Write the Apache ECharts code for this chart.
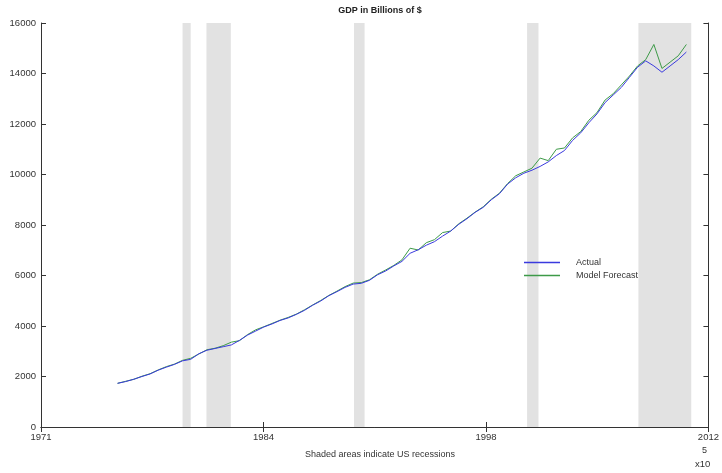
<!DOCTYPE html>
<html>
<head>
<meta charset="utf-8">
<script src="https://cdn.jsdelivr.net/npm/echarts@6/dist/echarts.min.js"></script>
<style>
html,body{margin:0;padding:0;background:#fff;}
#main{width:722px;height:473px;}
</style>
</head>
<body>
<div id="main"></div>
<script>
// half-year dates (decimal years)
var years = [1976.0,1976.5,1977.0,1977.5,1978.0,1978.5,1979.0,1979.5,1980.0,1980.5,
  1981.0,1981.5,1982.0,1982.5,1983.0,1983.5,1984.0,1984.5,1985.0,1985.5,
  1986.0,1986.5,1987.0,1987.5,1988.0,1988.5,1989.0,1989.5,1990.0,1990.5,
  1991.0,1991.5,1992.0,1992.5,1993.0,1993.5,1994.0,1994.5,1995.0,1995.5,
  1996.0,1996.5,1997.0,1997.5,1998.0,1998.5,1999.0,1999.5,2000.0,2000.5,
  2001.0,2001.5,2002.0,2002.5,2003.0,2003.5,2004.0,2004.5,2005.0,2005.5,
  2006.0,2006.5,2007.0,2007.5,2008.0,2008.5,2009.0,2009.5,2010.0,2010.5,2011.0];

var actual = [1730,1800,1890,2000,2100,2250,2370,2480,2620,2680,
  2900,3040,3110,3180,3250,3430,3640,3800,3960,4080,
  4220,4320,4460,4620,4820,4990,5200,5360,5530,5660,
  5690,5810,6030,6180,6380,6560,6880,7020,7200,7340,
  7560,7760,8030,8250,8500,8700,9000,9240,9620,9870,
  10050,10170,10320,10500,10750,10950,11350,11650,12050,12400,
  12850,13150,13450,13850,14250,14500,14300,14050,14300,14550,14850];

var forecast = [1730,1810,1890,2010,2110,2260,2390,2490,2640,2720,
  2890,3060,3120,3220,3360,3420,3660,3850,3970,4100,
  4230,4340,4470,4640,4830,5010,5210,5380,5560,5700,
  5720,5830,6050,6220,6400,6620,7080,7010,7300,7420,
  7700,7760,8050,8270,8510,8720,9020,9260,9640,9950,
  10100,10250,10650,10550,11000,11050,11450,11700,12150,12450,
  12950,13200,13550,13900,14300,14550,15150,14200,14450,14700,15150];

// US recessions (decimal years)
var recStart = [1980.0, 1981.47, 1990.55, 2001.2, 2008.05];
var recEnd   = [1980.5, 1982.97, 1991.2, 2001.9, 2011.3];

// x axis is in serial day numbers, labelled with years
var xTicks = [720000, 725000, 730000, 735000];
var xTickLabels = ['1971', '1984', '1998', '2012'];
var yTicks = [0,2000,4000,6000,8000,10000,12000,14000,16000];

var blue = '#3a3ade', green = '#3d9a48';

function datenum(y){
  return 719529 + (y - 1970) * 365.2425;
}

var actualPts = [], forecastPts = [];
for (var i = 0; i < years.length; i++) {
  actualPts.push([datenum(years[i]), actual[i]]);
  forecastPts.push([datenum(years[i]), forecast[i]]);
}
var areas = [];
for (var j = 0; j < recStart.length; j++) {
  areas.push([{xAxis: datenum(recStart[j])}, {xAxis: datenum(recEnd[j])}]);
}

var font = '"Liberation Sans", Arial, sans-serif';
var axisCol = '#333';

var option = {
  animation: false,
  backgroundColor: '#fff',
  title: {
    text: 'GDP in Billions of $',
    left: 375, top: 1, textAlign: 'center',
    textStyle: {fontSize: 9, fontWeight: 'bold', color: '#222', fontFamily: font}
  },
  grid: {left: 41, right: 13, top: 23, bottom: 46},
  legend: {
    data: [
      {name: 'Actual', icon: 'rect', itemStyle: {color: blue, borderWidth: 0}},
      {name: 'Model Forecast', icon: 'rect', itemStyle: {color: green, borderWidth: 0}}
    ],
    orient: 'vertical',
    left: 519, top: 253,
    itemWidth: 36, itemHeight: 1.5, itemGap: 4,
    textStyle: {fontSize: 9, color: '#333', fontFamily: font, padding: [0, 0, 0, 11]}
  },
  xAxis: [{
    type: 'value', min: xTicks[0], max: xTicks[xTicks.length - 1], interval: 5000,
    axisLine: {lineStyle: {color: axisCol, width: 1}},
    axisTick: {inside: true, length: 5, lineStyle: {color: axisCol}},
    axisLabel: {
      fontSize: 9.5, color: '#333', fontFamily: font, margin: 5,
      formatter: function(v){ return xTickLabels[xTicks.indexOf(v)] || ''; }
    },
    splitLine: {show: false}
  }, {
    type: 'value', position: 'top', min: xTicks[0], max: xTicks[xTicks.length - 1], interval: 5000,
    axisLine: {lineStyle: {color: axisCol, width: 1}},
    axisTick: {inside: true, length: 5, lineStyle: {color: axisCol}},
    axisLabel: {show: false},
    splitLine: {show: false}
  }],
  yAxis: [{
    type: 'value', min: yTicks[0], max: yTicks[yTicks.length - 1], interval: 2000,
    axisLine: {show: true, lineStyle: {color: axisCol, width: 1}},
    axisTick: {show: true, inside: true, length: 5, lineStyle: {color: axisCol}},
    axisLabel: {fontSize: 9.5, color: '#333', fontFamily: font, margin: 5,
      formatter: function(v){ return String(v); }},
    splitLine: {show: false}
  }, {
    type: 'value', position: 'right', min: yTicks[0], max: yTicks[yTicks.length - 1], interval: 2000,
    axisLine: {show: true, lineStyle: {color: axisCol, width: 1}},
    axisTick: {show: true, inside: true, length: 5, lineStyle: {color: axisCol}},
    axisLabel: {show: false},
    splitLine: {show: false}
  }],
  graphic: [
    {type: 'text', left: 305, top: 450, style: {text: 'Shaded areas indicate US recessions', fill: '#333', font: '9px ' + font}},
    {type: 'text', left: 702, top: 446, style: {text: '5', fill: '#333', font: '9px ' + font}},
    {type: 'text', left: 695, top: 459, style: {text: 'x10', fill: '#333', font: '9.5px ' + font}}
  ],
  series: [{
    name: 'recessions', type: 'line', data: [], z: 1, silent: true,
    markArea: {silent: true, itemStyle: {color: '#e2e2e2'}, data: areas}
  }, {
    name: 'Actual', type: 'line', data: actualPts, symbol: 'none', z: 3,
    lineStyle: {color: blue, width: 1}, itemStyle: {color: blue}
  }, {
    name: 'Model Forecast', type: 'line', data: forecastPts, symbol: 'none', z: 2,
    lineStyle: {color: green, width: 1}, itemStyle: {color: green}
  }]
};

var myChart = echarts.init(document.getElementById('main'));
myChart.setOption(option);
</script>
</body>
</html>
